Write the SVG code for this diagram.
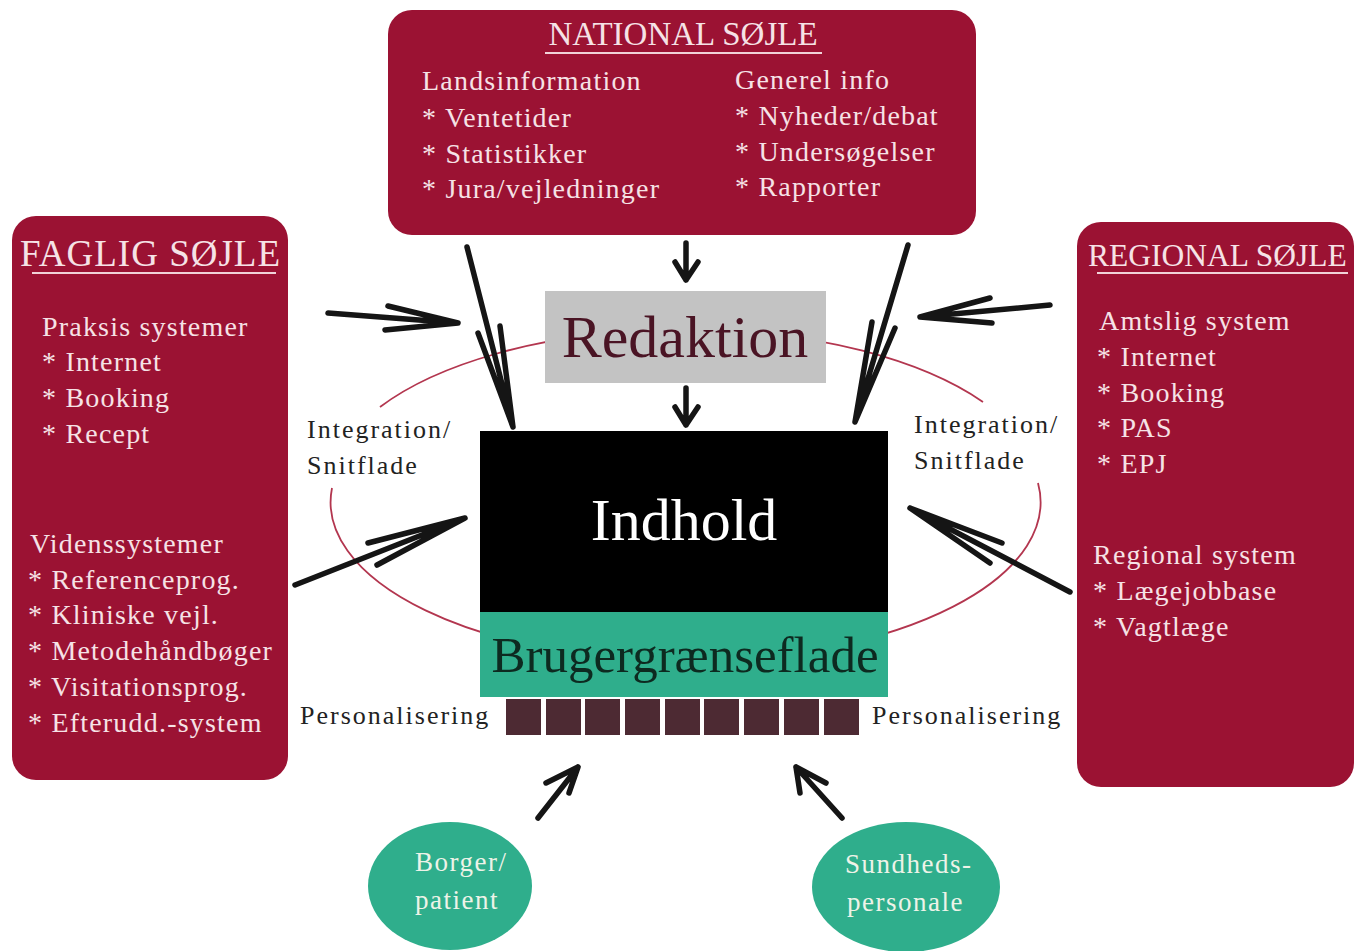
<svg xmlns="http://www.w3.org/2000/svg" width="1355" height="951" viewBox="0 0 1355 951">
<style>
.panel{fill:#9b1233}
.pt{font-family:"Liberation Serif",serif;font-size:28px;fill:#f6e2e6;letter-spacing:1.2px}
.ttl{font-family:"Liberation Serif",serif;fill:#f6e2e6}
.ul{stroke:#f1d3d9;stroke-width:2}
.lbl{font-family:"Liberation Serif",serif;font-size:26px;fill:#222;letter-spacing:2px}
.arr{fill:none;stroke:#151515;stroke-width:5.5;stroke-linecap:round;stroke-linejoin:round}
.ring{fill:none;stroke:#b3364f;stroke-width:1.8}
.blk{fill:#4d2a33}
.user{fill:#2fae8c}
.ut{font-family:"Liberation Serif",serif;font-size:27px;fill:#eef3e8;letter-spacing:1.5px}
</style>
<rect width="1355" height="951" fill="#ffffff"/>

<g id="integration-ring">
<path class="ring" d="M380 407 A355 159 0 0 1 983 402"/>
<path class="ring" d="M1038 483 A355 159 0 1 1 332 488"/>
</g>

<g id="national">
<rect class="panel" x="388" y="10" width="588" height="225" rx="24"/>
<text class="ttl" x="683" y="45" font-size="33" text-anchor="middle">NATIONAL SØJLE</text>
<line class="ul" x1="545" y1="53" x2="822" y2="53"/>
<text class="pt" x="422" y="90">Landsinformation</text>
<text class="pt" x="422" y="127">* Ventetider</text>
<text class="pt" x="422" y="163">* Statistikker</text>
<text class="pt" x="422" y="198">* Jura/vejledninger</text>
<text class="pt" x="735" y="89">Generel info</text>
<text class="pt" x="735" y="125">* Nyheder/debat</text>
<text class="pt" x="735" y="161">* Undersøgelser</text>
<text class="pt" x="735" y="196">* Rapporter</text>
</g>

<g id="faglig">
<rect class="panel" x="12" y="216" width="276" height="564" rx="24"/>
<text class="ttl" x="20" y="266" font-size="37" letter-spacing="1">FAGLIG SØJLE</text>
<line class="ul" x1="32" y1="273" x2="276" y2="273"/>
<text class="pt" x="42" y="336">Praksis systemer</text>
<text class="pt" x="42" y="371">* Internet</text>
<text class="pt" x="42" y="407">* Booking</text>
<text class="pt" x="42" y="443">* Recept</text>
<text class="pt" x="30" y="553">Videnssystemer</text>
<text class="pt" x="28" y="589">* Referenceprog.</text>
<text class="pt" x="28" y="624">* Kliniske vejl.</text>
<text class="pt" x="28" y="660">* Metodehåndbøger</text>
<text class="pt" x="28" y="696">* Visitationsprog.</text>
<text class="pt" x="28" y="732">* Efterudd.-system</text>
</g>

<g id="regional">
<rect class="panel" x="1077" y="222" width="277" height="565" rx="24"/>
<text class="ttl" x="1088" y="266" font-size="31.5">REGIONAL SØJLE</text>
<line class="ul" x1="1097" y1="273" x2="1348" y2="273"/>
<text class="pt" x="1099" y="330">Amtslig system</text>
<text class="pt" x="1097" y="366">* Internet</text>
<text class="pt" x="1097" y="402">* Booking</text>
<text class="pt" x="1097" y="437">* PAS</text>
<text class="pt" x="1097" y="473">* EPJ</text>
<text class="pt" x="1093" y="564">Regional system</text>
<text class="pt" x="1093" y="600">* Lægejobbase</text>
<text class="pt" x="1093" y="636">* Vagtlæge</text>
</g>

<g id="redaktion">
<rect x="545" y="291" width="281" height="92" fill="#c3c3c3"/>
<text x="685" y="357" font-family="'Liberation Serif',serif" font-size="60" fill="#4a1424" text-anchor="middle">Redaktion</text>
</g>

<g id="indhold">
<rect x="480" y="431" width="408" height="181" fill="#000000"/>
<text x="684" y="540" font-family="'Liberation Serif',serif" font-size="60" fill="#ffffff" text-anchor="middle">Indhold</text>
</g>

<g id="brugergraenseflade">
<rect class="user" x="480" y="612" width="408" height="85"/>
<text x="685" y="672" font-family="'Liberation Serif',serif" font-size="51" fill="#0d2a20" text-anchor="middle">Brugergrænseflade</text>
</g>

<g id="personalisering">
<rect class="blk" x="506" y="699" width="35" height="36"/>
<rect class="blk" x="546" y="699" width="35" height="36"/>
<rect class="blk" x="585" y="699" width="35" height="36"/>
<rect class="blk" x="625" y="699" width="35" height="36"/>
<rect class="blk" x="665" y="699" width="35" height="36"/>
<rect class="blk" x="704" y="699" width="35" height="36"/>
<rect class="blk" x="744" y="699" width="35" height="36"/>
<rect class="blk" x="784" y="699" width="35" height="36"/>
<rect class="blk" x="824" y="699" width="35" height="36"/>
<text class="lbl" x="300" y="724">Personalisering</text>
<text class="lbl" x="872" y="724">Personalisering</text>
</g>

<g id="integration-left">
<text class="lbl" x="307" y="438">Integration/</text>
<text class="lbl" x="307" y="474">Snitflade</text>
</g>
<g id="integration-right">
<text class="lbl" x="914" y="433">Integration/</text>
<text class="lbl" x="914" y="469">Snitflade</text>
</g>

<g id="borger">
<ellipse class="user" cx="450" cy="886" rx="82" ry="64"/>
<text class="ut" x="415" y="871">Borger/</text>
<text class="ut" x="415" y="909">patient</text>
</g>

<g id="sundhedspersonale">
<ellipse class="user" cx="906" cy="887" rx="94" ry="65"/>
<text class="ut" x="845" y="873" letter-spacing="2">Sundheds-</text>
<text class="ut" x="847" y="911" letter-spacing="2">personale</text>
</g>

<g id="connectors">
<path class="arr" d="M686 243 L686 280 M675 262 L686 280 L698 262"/>
<path class="arr" d="M686 388 L686 425 M675 407 L686 425 L698 407"/>
<path class="arr" d="M467 247 L513 427 M478 333 L513 427 L500 326"/>
<path class="arr" d="M328 313 L458 323 M388 306 L458 323 L385 330"/>
<path class="arr" d="M908 245 L855 422 M872 322 L855 422 L895 328"/>
<path class="arr" d="M1050 305 L920 317 M990 298 L920 317 L992 323"/>
<path class="arr" d="M295 585 L465 518 M368 543 L465 518 L377 565"/>
<path class="arr" d="M1070 592 L910 508 M1002 543 L910 508 L990 563"/>
<path class="arr" d="M538 818 L578 767 M546 783 L578 767 L569 793"/>
<path class="arr" d="M842 818 L796 767 M800 793 L796 767 L826 783"/>
</g>
</svg>
